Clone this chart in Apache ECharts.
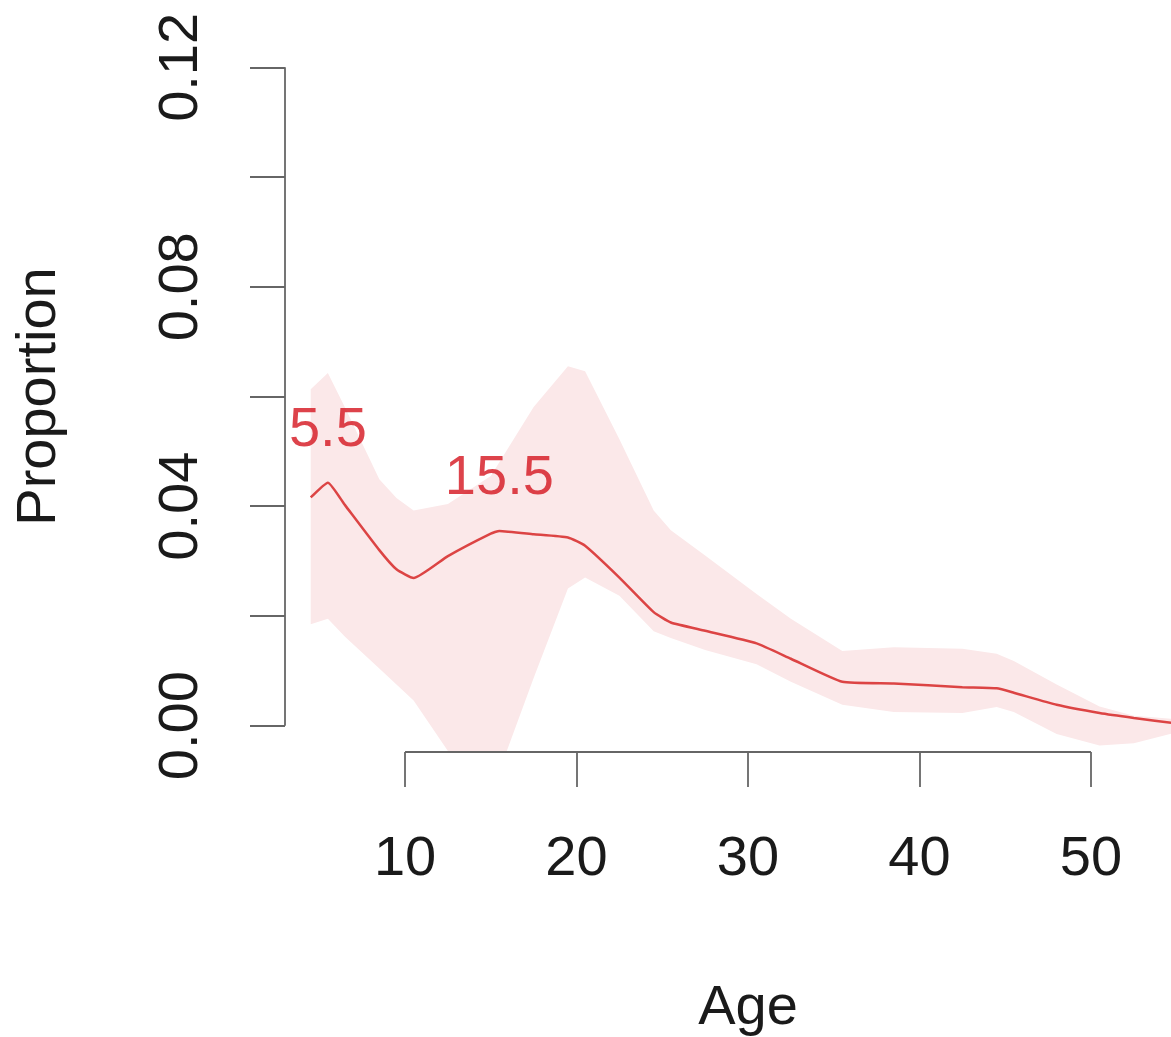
<!DOCTYPE html>
<html>
<head>
<meta charset="utf-8">
<script src="https://cdn.jsdelivr.net/npm/echarts@6/dist/echarts.min.js"></script>
<style>
html,body{margin:0;padding:0;background:#fff;}
#chart{width:1171px;height:1037px;}
</style>
</head>
<body>
<div id="chart"></div>
<script>
// ---- data ----
var ages       = [4.5, 5.5, 6.5, 8.5, 9.5, 10.5, 12.5, 15, 15.5, 17.5, 19.5, 20.5, 22.5, 24.5, 25.5, 27.5, 30.5, 32.5, 35.5, 38.5, 42.5, 44.5, 45.5, 48, 50.5, 52.5, 55];
var proportion = [0.0416, 0.0443, 0.0402, 0.0320, 0.0285, 0.0269, 0.0309, 0.0350, 0.0355, 0.0349, 0.0343, 0.0328, 0.0270, 0.0207, 0.0188, 0.0173, 0.0150, 0.0122, 0.0080, 0.0077, 0.0070, 0.0068, 0.0060, 0.0038, 0.0023, 0.0014, 0.0004];
var upperCI    = [0.0613, 0.0643, 0.0580, 0.0449, 0.0415, 0.0392, 0.0404, 0.0455, 0.0480, 0.0581, 0.0655, 0.0646, 0.0522, 0.0392, 0.0356, 0.0310, 0.0240, 0.0195, 0.0136, 0.0143, 0.0140, 0.0131, 0.0118, 0.0075, 0.0035, 0.0018, 0.0012];
var lowerCI    = [0.0185, 0.0195, 0.0162, 0.0104, 0.0075, 0.0046, -0.0046, -0.0125, -0.0083, 0.0087, 0.0250, 0.0270, 0.0237, 0.0172, 0.0160, 0.0138, 0.0112, 0.0080, 0.0038, 0.0025, 0.0023, 0.0034, 0.0025, -0.0015, -0.0036, -0.0032, -0.0012];
var peakAges   = [5.5, 15.5];
var xTicks     = [10, 20, 30, 40, 50];
var yTicks     = [0, 0.02, 0.04, 0.06, 0.08, 0.10, 0.12];
var yLabels    = [0, 0.04, 0.08, 0.12];

// ---- axis ranges (R style 4% extension) ----
var xMin = 3, xMax = 57;
var yMin = -0.0048, yMax = 0.1248;

var FONT = "'Liberation Sans', Arial, sans-serif";
var axisGray = '#666666';
var textCol = '#1a1a1a';

var lineData = ages.map(function(a, i){ return [a, proportion[i]]; });
var bandData = ages.map(function(a, i){ return [a, lowerCI[i], upperCI[i]]; });
var peakData = peakAges.map(function(a){ return [a, proportion[ages.indexOf(a)]]; });

var chart = echarts.init(document.getElementById('chart'));
chart.setOption({
  backgroundColor: '#ffffff',
  animation: false,
  grid: { left: 285, top: 41, width: 926, bottom: 285, containLabel: false, outerBoundsMode: 'none' },
  xAxis: {
    type: 'value', min: xMin, max: xMax,
    axisLine: { show: false, onZero: false },
    splitLine: { show: false },
    axisTick: { show: true, customValues: xTicks, length: 35, lineStyle: { color: axisGray, width: 1.8 } },
    axisLabel: { show: true, customValues: xTicks, margin: 80, fontSize: 56, color: textCol, fontFamily: FONT },
    name: 'Age', nameLocation: 'middle', nameGap: 229,
    nameTextStyle: { fontSize: 56, color: textCol, fontFamily: FONT }
  },
  yAxis: {
    type: 'value', min: yMin, max: yMax,
    axisLine: { show: false, onZero: false },
    splitLine: { show: false },
    axisTick: { show: true, customValues: yTicks, length: 35, lineStyle: { color: axisGray, width: 1.8 } },
    axisLabel: { show: true, customValues: yLabels, rotate: 90, margin: 75, fontSize: 56, color: textCol, fontFamily: FONT,
      formatter: function(v){ return v.toFixed(2); } },
    name: 'Proportion', nameLocation: 'middle', nameRotate: 90, nameGap: 217,
    nameTextStyle: { fontSize: 56, color: textCol, fontFamily: FONT }
  },
  series: [
    { name: 'band', type: 'custom', data: [0], clip: true, silent: true, z: 1,
      renderItem: function(params, api){
        var pts = [];
        for (var i = 0; i < bandData.length; i++) pts.push(api.coord([bandData[i][0], bandData[i][2]]));
        for (var j = bandData.length - 1; j >= 0; j--) pts.push(api.coord([bandData[j][0], bandData[j][1]]));
        return { type: 'polygon', shape: { points: pts, smooth: 0 }, style: { fill: '#fbe8e9', stroke: null } };
      } },
    { name: 'proportion', type: 'line', data: lineData, symbol: 'none', smooth: 0.15,
      lineStyle: { color: '#dc4444', width: 2.5 }, z: 5 },
    { name: 'peaks', type: 'scatter', data: peakData, symbolSize: 0.1, z: 6,
      label: { show: true, position: 'top', distance: 24, fontSize: 56, color: '#d4141e', fontFamily: FONT,
        formatter: function(p){ return String(p.value[0]); } } },
    { name: 'xaxisline', type: 'line', data: [[xTicks[0], yMin], [xTicks[xTicks.length-1], yMin]],
      symbol: 'none', clip: false, silent: true, lineStyle: { color: axisGray, width: 1.8 }, z: 7 },
    { name: 'yaxisline', type: 'line', data: [[xMin, yTicks[0]], [xMin, yTicks[yTicks.length-1]]],
      symbol: 'none', clip: false, silent: true, lineStyle: { color: axisGray, width: 1.8 }, z: 7 }
  ]
});
</script>
</body>
</html>
